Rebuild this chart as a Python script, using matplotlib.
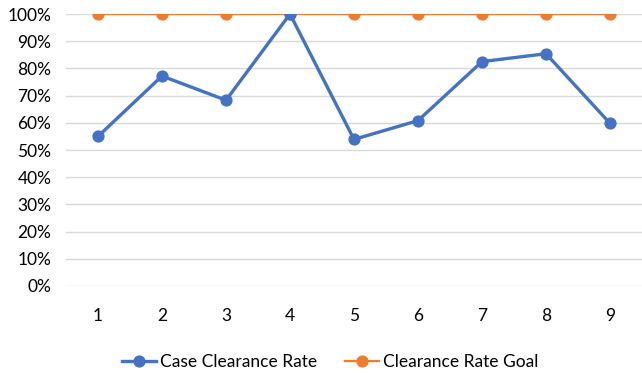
import matplotlib
matplotlib.use("Agg")
import matplotlib.pyplot as plt
from matplotlib.ticker import PercentFormatter

categories = ["1", "2", "3", "4", "5", "6", "7", "8", "9"]
case_rate = [55.0, 77.2, 68.3, 100.0, 53.9, 60.8, 82.5, 85.4, 59.8]
goal_rate = [100, 100, 100, 100, 100, 100, 100, 100, 100]
y_ticks = list(range(0, 101, 10))

plt.rcParams['font.family'] = ['Lato', 'DejaVu Sans']

fig = plt.figure(figsize=(6.42, 3.82), dpi=100)
ax = fig.add_axes([66/642, 96/382, 576/642, 272/382])

x = list(range(1, len(categories) + 1))
ax.plot(x, case_rate, color="#4472C4", lw=2.4, marker="o", ms=7.8,
        label="Case Clearance Rate", solid_joinstyle="round", zorder=3)
ax.plot(x, goal_rate, color="#ED7D31", lw=1.6, marker="o", ms=7.8,
        label="Clearance Rate Goal", zorder=2)

ax.set_xlim(0.5, len(categories) + 0.5)
ax.set_ylim(0, 100)
ax.set_yticks(y_ticks)
ax.yaxis.set_major_formatter(PercentFormatter(decimals=0))
ax.set_xticks(x)
ax.set_xticklabels(categories)
ax.grid(axis="y", color="#D9D9D9", lw=1)
ax.set_axisbelow(True)
for s in ax.spines.values():
    s.set_visible(False)
ax.tick_params(axis="both", length=0, labelsize=12.5, colors="#000000")
ax.tick_params(axis="y", pad=10.5)
ax.tick_params(axis="x", pad=16)

ax.legend(loc="center", bbox_to_anchor=(330/642, 1 - 362/382), bbox_transform=fig.transFigure,
          ncol=2, frameon=False, fontsize=12.5, handlelength=2.0, columnspacing=1.6,
          handletextpad=0.2)

fig.savefig("out.png", dpi=100)
